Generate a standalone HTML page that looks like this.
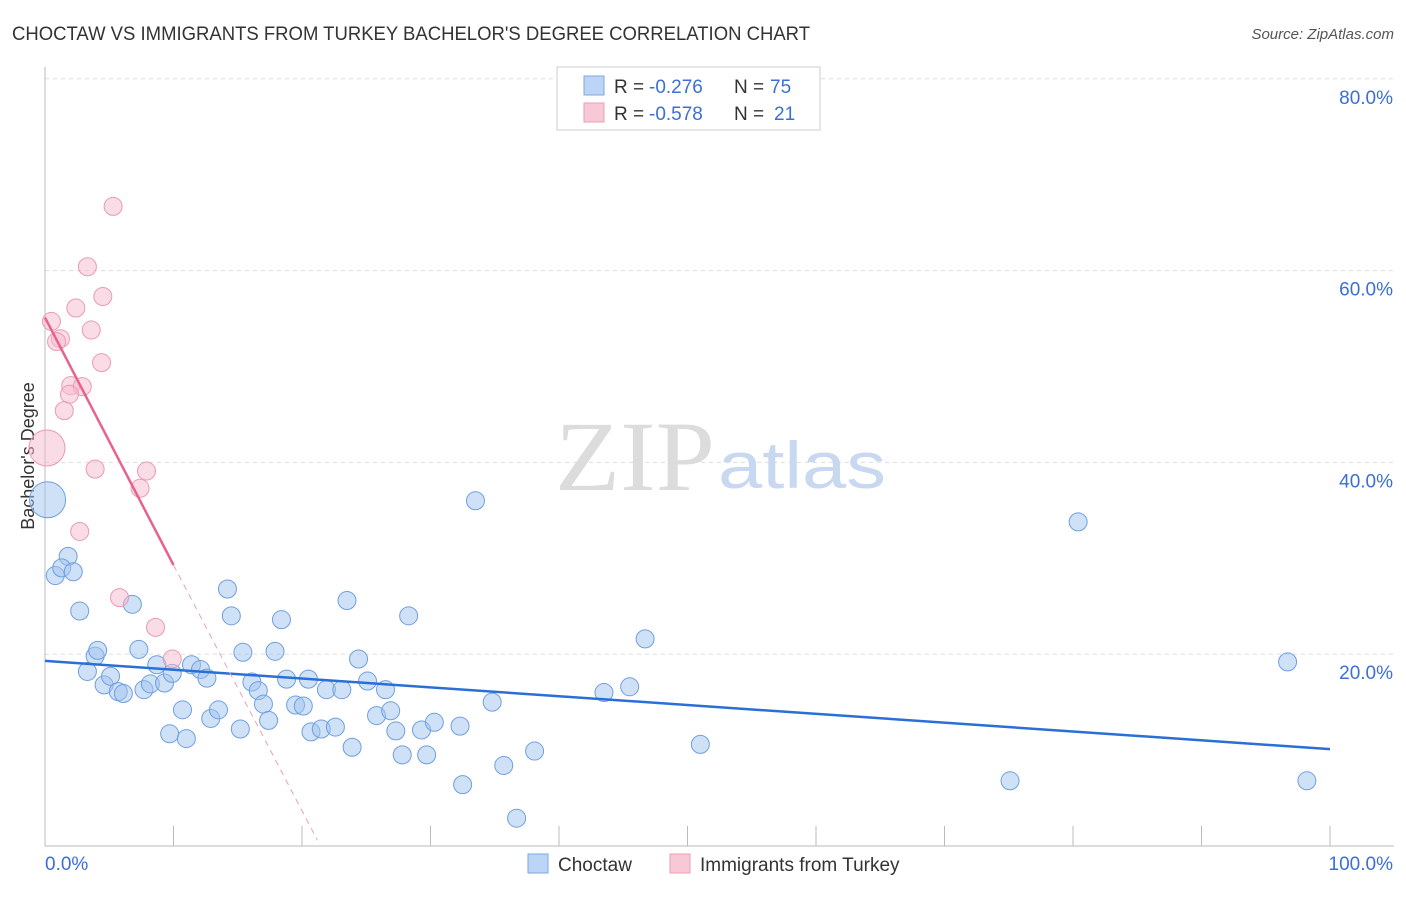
<!DOCTYPE html>
<html><head><meta charset="utf-8"><style>
body{margin:0;background:#fff;font-family:"Liberation Sans",sans-serif}
</style></head><body>
<svg id="chart" width="1406" height="892" style="font-family:'Liberation Sans',sans-serif">
<text x="12" y="40" font-size="19" fill="#333" textLength="798" lengthAdjust="spacingAndGlyphs">CHOCTAW VS IMMIGRANTS FROM TURKEY BACHELOR'S DEGREE CORRELATION CHART</text>
<text x="1394" y="39" font-size="15" fill="#555" text-anchor="end" font-style="italic">Source: ZipAtlas.com</text>
<g id="grid"></g>
<text x="555" y="490" font-size="100" fill="#dcdcdc" textLength="160" lengthAdjust="spacingAndGlyphs" style="font-family:'Liberation Serif',serif">ZIP</text>
<text x="718" y="488" font-size="66" fill="#c8d8f0" textLength="168" lengthAdjust="spacingAndGlyphs">atlas</text>
<text transform="translate(34,456) rotate(-90)" font-size="18" fill="#333" text-anchor="middle">Bachelor's Degree</text>
<g id="marks"></g>
<g>
<rect x="557" y="67" width="263" height="63" fill="#fff" stroke="#ccc"/>
<rect x="584" y="76" width="20" height="19" fill="#bcd4f5" stroke="#7da7e0"/>
<rect x="584" y="103" width="20" height="19" fill="#f8c8d6" stroke="#eaa0b6"/>
<text x="614" y="93" font-size="19" fill="#333">R =</text>
<text x="649" y="93" font-size="19" fill="#3b6fd6">-0.276</text>
<text x="734" y="93" font-size="19" fill="#333">N =</text>
<text x="770" y="93" font-size="19" fill="#3b6fd6">75</text>
<text x="614" y="120" font-size="19" fill="#333">R =</text>
<text x="649" y="120" font-size="19" fill="#3b6fd6">-0.578</text>
<text x="734" y="120" font-size="19" fill="#333">N =</text>
<text x="774" y="120" font-size="19" fill="#3b6fd6">21</text>
</g>
<g>
<rect x="528" y="854" width="20" height="19" fill="#bcd4f5" stroke="#7da7e0"/>
<text x="558" y="871" font-size="19" fill="#333">Choctaw</text>
<rect x="670" y="854" width="20" height="19" fill="#f8c8d6" stroke="#eaa0b6"/>
<text x="700" y="871" font-size="19" fill="#333">Immigrants from Turkey</text>
</g>
</svg>
<script>
const blueX=[0.8,1.8,1.3,2.2,2.7,3.3,3.9,4.1,4.6,5.1,5.7,6.1,6.8,7.3,7.7,8.2,8.7,9.3,9.7,9.9,10.7,11.0,11.4,12.1,12.6,12.9,13.5,14.2,14.5,15.2,15.4,16.1,16.6,17.0,17.4,17.9,18.4,18.8,19.5,20.1,20.5,20.7,21.5,21.9,22.6,23.1,23.5,23.9,24.4,25.1,25.8,26.5,26.9,27.3,27.8,28.3,29.3,29.7,30.3,32.3,32.5,33.5,34.8,35.7,36.7,38.1,43.5,45.5,46.7,51.0,75.1,80.4,96.7,98.2,0.2];
const blueY=[28.2,30.2,29.0,28.6,24.5,18.2,19.8,20.4,16.8,17.7,16.1,15.9,25.2,20.5,16.3,16.9,18.9,17.0,11.7,18.0,14.2,11.2,18.9,18.4,17.5,13.3,14.2,26.8,24.0,12.2,20.2,17.1,16.2,14.8,13.1,20.3,23.6,17.4,14.7,14.6,17.4,11.9,12.2,16.3,12.4,16.3,25.6,10.3,19.5,17.2,13.6,16.3,14.1,12.0,9.5,24.0,12.1,9.5,12.9,12.5,6.4,36.0,15.0,8.4,2.9,9.9,16.0,16.6,21.6,10.6,6.8,33.8,19.2,6.8,36.1];
const pinkX=[5.3,3.3,4.5,2.4,0.5,3.6,1.2,0.9,4.4,2.0,2.9,1.9,1.5,3.9,7.9,7.4,2.7,5.8,8.6,9.9,0.15];
const pinkY=[66.7,60.4,57.3,56.1,54.7,53.8,52.9,52.6,50.4,48.0,47.9,47.1,45.4,39.3,39.1,37.3,32.8,25.9,22.8,19.5,41.5];
const blueTrend=[0,19.3,100,10.1];
const pinkTrend=[0,55.1,10,29.3,21.2,0.6];
const yTicks=[20,40,60,80];
const NS="http://www.w3.org/2000/svg";
const X=v=>45+v*12.85, Y=v=>846-v*9.59;
const grid=document.getElementById('grid'), marks=document.getElementById('marks');
function mk(tag,attrs,parent){const e=document.createElementNS(NS,tag);for(const k in attrs)e.setAttribute(k,attrs[k]);parent.appendChild(e);return e;}
yTicks.forEach(t=>{
 const l=mk('line',{x1:45,x2:1394,y1:Y(t),y2:Y(t),stroke:'#ddd','stroke-dasharray':'4,4'},grid);
 
 
 const tx=mk('text',{x:1393,y:Y(t)+25,'font-size':19,fill:'#3b6fd6','text-anchor':'end'},grid);tx.textContent=t.toFixed(1)+'%';
 
 
});
const ax=mk('line',{x1:45,x2:1394,y1:846,y2:846,stroke:'#bbb'},grid);


const ay=mk('line',{x1:45,x2:45,y1:67,y2:846,stroke:'#bbb'},grid);


for(let i=0;i<=10;i++){const t=mk('line',{x1:X(i*10),x2:X(i*10),y1:826,y2:846,stroke:'#bbb'},grid);
 
 }
[['0.0%',45,'start'],['100.0%',1393,'end']].forEach(a=>{const t=mk('text',{x:a[1],y:870,'font-size':19,fill:'#3b6fd6','text-anchor':a[2]},grid);t.textContent=a[0];
 
 });
blueX.forEach((x,i)=>{const r=i===blueX.length-1?18:9;const c=mk('circle',{cx:X(x),cy:Y(blueY[i]),r:r,fill:'rgba(160,195,240,0.5)',stroke:'#6f9fdf','stroke-width':1},marks);
 
 });
pinkX.forEach((x,i)=>{const r=i===pinkX.length-1?18:9;const c=mk('circle',{cx:X(x),cy:Y(pinkY[i]),r:r,fill:'rgba(245,185,205,0.5)',stroke:'#eb9ab3','stroke-width':1},marks);
 
 });
const bt=mk('line',{x1:X(blueTrend[0]),y1:Y(blueTrend[1]),x2:X(blueTrend[2]),y2:Y(blueTrend[3]),stroke:'#2a6fd6','stroke-width':2.5},marks);


const pt=mk('line',{x1:X(pinkTrend[0]),y1:Y(pinkTrend[1]),x2:X(pinkTrend[2]),y2:Y(pinkTrend[3]),stroke:'#e8628e','stroke-width':2.5},marks);


const pd=mk('line',{x1:X(pinkTrend[2]),y1:Y(pinkTrend[3]),x2:X(pinkTrend[4]),y2:Y(pinkTrend[5]),stroke:'#e8a0b8','stroke-width':1,'stroke-dasharray':'6,5'},marks);


</script>
</body></html>
